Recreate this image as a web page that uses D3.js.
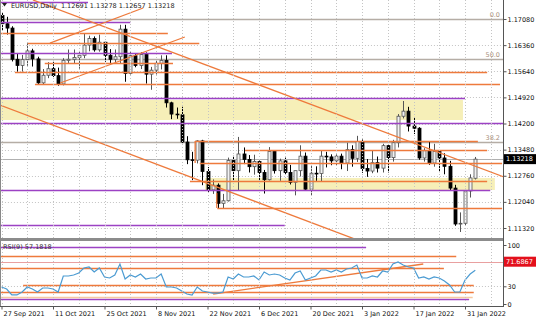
<!DOCTYPE html>
<html>
<head>
<meta charset="utf-8">
<script src="https://cdnjs.cloudflare.com/ajax/libs/d3/7.8.5/d3.min.js"></script>
<style>
    body { margin: 0; background: #fff; }
    svg { display: block; font-family: "DejaVu Sans", sans-serif; }
</style>
</head>
<body>
<div id="chart"></div>
<script>

// EURUSD daily bars, 27 Sep 2021 .. 2 Feb 2022 (bar index 0..92)
let opens = [1.1718,1.1695,1.1683,1.1597,1.1580, 1.1596,1.1620,1.1598,1.1532,1.1553, 1.1571,1.1552,1.1529,1.1594,1.1597,
    1.1602,1.1608,1.1636,1.1654,1.1623, 1.1644,1.1608,1.1597,1.1604,1.1680, 1.1558,1.1607,1.1580,1.1610,1.1556,
    1.1567,1.1586,1.1594,1.1477,1.1446, 1.1444,1.1369,1.1320,1.1319,1.1372, 1.1288,1.1237,1.1250,1.1200,1.1207,
    1.1318,1.1290,1.1336,1.1321,1.1301, 1.1315,1.1285,1.1265,1.1343,1.1290, 1.1317,1.1285,1.1258,1.1290,1.1330,
    1.1239,1.1283,1.1282,1.1330,1.1328, 1.1317,1.1330,1.1311,1.1348,1.1324, 1.1370,1.1296,1.1289,1.1312,1.1297,
    1.1359,1.1326,1.1367,1.1440,1.1454, 1.1413,1.1407,1.1325,1.1345,1.1311, 1.1343,1.1325,1.1302,1.1242,1.1143,
    1.1145,1.1234,1.12691];
let highs = [1.1727,1.1714,1.1688,1.1613,1.1609, 1.1641,1.1626,1.1604,1.1570,1.1589, 1.1590,1.1574,1.1600,1.1624,1.1624,
    1.1620,1.1668,1.1662,1.1660,1.1665, 1.1645,1.1625,1.1624,1.1692,1.1692, 1.1617,1.1614,1.1617,1.1616,1.1576,
    1.1593,1.1608,1.1608,1.1480,1.1464, 1.1466,1.1385,1.1342,1.1374,1.1375, 1.1300,1.1266,1.1255,1.1226,1.1326,
    1.1331,1.1383,1.1354,1.1333,1.1334, 1.1318,1.1292,1.1355,1.1345,1.1323, 1.1326,1.1306,1.1290,1.1360,1.1340,
    1.1303,1.1302,1.1345,1.1342,1.1335, 1.1335,1.1337,1.1367,1.1360,1.1386, 1.1376,1.1322,1.1346,1.1329,1.1364,
    1.1363,1.1375,1.1446,1.1482,1.1466, 1.1438,1.1410,1.1352,1.1371,1.1364, 1.1345,1.1338,1.1317,1.1251,1.1175,
    1.1240,1.1280,1.13278];
let lows = [1.1676,1.1665,1.1591,1.1563,1.1563, 1.1579,1.1577,1.1529,1.1528,1.1545, 1.1548,1.1524,1.1525,1.1584,1.1585,
    1.1571,1.1600,1.1619,1.1618,1.1618, 1.1590,1.1586,1.1584,1.1585,1.1535, 1.1555,1.1575,1.1570,1.1530,1.1513,
    1.1555,1.1569,1.1464,1.1432,1.1433, 1.1366,1.1308,1.1264,1.1310,1.1250, 1.1230,1.1226,1.1186,1.1185,1.1205,
    1.1259,1.1235,1.1308,1.1285,1.1279, 1.1263,1.1227,1.1263,1.1282,1.1262, 1.1279,1.1252,1.1222,1.1274,1.1234,
    1.1222,1.1262,1.1260,1.1299,1.1305, 1.1305,1.1294,1.1289,1.1301,1.1314, 1.1284,1.1273,1.1283,1.1285,1.1285,
    1.1285,1.1315,1.1354,1.1434,1.1398, 1.1391,1.1320,1.1315,1.1306,1.1301, 1.1286,1.1280,1.1235,1.1138,1.1121,
    1.1139,1.1216,1.12657];
let closes = [1.1695,1.1683,1.1597,1.1580,1.1596, 1.1620,1.1598,1.1532,1.1553,1.1571, 1.1552,1.1529,1.1594,1.1597,1.1602,
    1.1608,1.1636,1.1654,1.1623,1.1644, 1.1608,1.1597,1.1604,1.1680,1.1558, 1.1607,1.1580,1.1610,1.1556,1.1567,
    1.1586,1.1594,1.1477,1.1446,1.1444, 1.1369,1.1320,1.1319,1.1372,1.1288, 1.1237,1.1250,1.1200,1.1207,1.1318,
    1.1290,1.1336,1.1321,1.1301,1.1315, 1.1285,1.1265,1.1343,1.1290,1.1317, 1.1285,1.1258,1.1290,1.1330,1.1239,
    1.1283,1.1282,1.1330,1.1328,1.1317, 1.1330,1.1311,1.1348,1.1324,1.1370, 1.1296,1.1289,1.1312,1.1297,1.1359,
    1.1326,1.1367,1.1440,1.1454,1.1413, 1.1407,1.1325,1.1345,1.1311,1.1343, 1.1325,1.1302,1.1242,1.1143,1.1145,
    1.1234,1.1270,1.13218];

// RSI(9)
let rsiValues = [28.8,25.4,15.3,15.3,20.3, 28.8,25.4,20.3,27.1,27.1, 25.4,20.3,47.5,47.5,49.2, 52.5,61.0,62.7,54.2,61.0,
    45.8,44.1,49.2,67.8,42.4, 49.2,45.8,50.8,42.4,44.1, 44.1,50.8,28.8,28.8,27.1, 22.0,16.9,15.3,28.8,22.0,
    20.3,18.6,18.6,20.3,45.8, 42.4,50.8,45.8,45.8,47.5, 40.7,54.2,49.2,50.8,49.2, 44.1,40.7,52.5,55.9,40.7,
    44.1,47.5,57.6,57.6,54.2, 57.6,54.2,59.3,61.0,66.1, 44.1,44.1,47.5,45.8,55.9, 54.2,67.8,71.2,66.1,62.7,
    61.0,44.1,45.8,42.4,45.8, 44.1,39.0,32.2,20.3,20.3, 40.7,50.8,57.2];

let priceTicks = [1.17080, 1.16360, 1.15640, 1.14920, 1.14200, 1.13480, 1.12760, 1.12040, 1.11320];
let rsiTicks = [100, 30, 0];
let dateTicks = [0, 10, 20, 30, 40, 50, 60, 70, 80, 90];
let dateTickLabels = ["27 Sep 2021", "11 Oct 2021", "25 Oct 2021", "8 Nov 2021", "22 Nov 2021",
    "6 Dec 2021", "20 Dec 2021", "3 Jan 2022", "17 Jan 2022", "31 Jan 2022"];

// Drawn objects: levels in price, extents in bar index
let orangeLevels = [1.16694, 1.16418, 1.15867, 1.15619, 1.15288, 1.13717, 1.13469, 1.13111, 1.12615, 1.11871];
let orangeFrom   = [-0.3, 5.1, 8.4, 2.6, 6.5, 37.6, 47.3, 38.5, 36.6, 41.9];
let orangeTo     = [32.3, 38.4, 33.3, 94.3, 96.8, 92.5, 94.3, 97.2, 94.3, 97.2];

let purpleLevels = [1.17562, 1.16997, 1.16143, 1.14902, 1.14213, 1.12367, 1.11402];
let purpleFrom   = [-0.3, -0.3, -0.3, -0.3, -0.3, -0.3, -0.3];
let purpleTo     = [16.8, 25.0, 33.1, 90.0, 97.6, 94.9, 55.0];

let zoneTop    = [1.14847, 1.12697];
let zoneBottom = [1.14296, 1.12367];
let zoneFrom   = [-0.3, 39.5];
let zoneTo     = [89.6, 95.8];

let fibLevels = [1.17080, 1.15977, 1.13703];
let fibLabels = ["0.0", "50.0", "38.2"];

// trend lines: [bar1, price1, bar2, price2]
let trendLines = [
    [6.1, 1.17604, 97.6, 1.12725],
    [-0.3, 1.14710, 68.6, 1.11016],
    [9.4, 1.16418, 27.5, 1.17383],
    [11.4, 1.15316, 35.6, 1.16584],
    [37.6, 1.13717, 37.6, 1.13111],
    [41.8, 1.12284, 41.8, 1.11871]
];

let rsiOrangeLevels = [81.4, 61.0, 32.2, 20.3];
let rsiOrangeFrom   = [-0.3, -0.3, 4.2, -0.3];
let rsiOrangeTo     = [88.3, 85.9, 91.7, 91.7];
let rsiPurpleLevels = [96.6, 8.5];
let rsiPurpleTo     = [70.8, 90.8];
let rsiPeachLevel = 11.9;
let rsiMarkLevel = 71.6867;
let rsiTrend = [41.1, 16.9, 81.9, 67.8];

let header = "EURUSD,Daily  1.12691 1.13278 1.12657 1.13218";
let rsiHeader = "RSI(9) 57.1818";
let lastPrice = 1.13218;

// Chart
let plotRight = 503;
let mainBottom = 238, rsiTop = 241, rsiBottom = 306;
let orange = "#ee7a3c", purple = "#9c42c4", zoneFill = "#f6efb8";

let svg = d3.select("#chart").append("svg")
    .attr("width", 536)
    .attr("height", 321);

let x = d3.scaleLinear().domain([0, 90]).range([1.5, 465]);
let y = d3.scaleLinear().domain([1.11320, 1.17080]).range([228, 19]);
let yRsi = d3.scaleLinear().domain([0, 100]).range([304, 245]);

let defs = svg.append("defs");
defs.append("clipPath").attr("id", "clipMain")
    .append("rect").attr("x", 0).attr("y", 0).attr("width", plotRight).attr("height", mainBottom);
defs.append("clipPath").attr("id", "clipRsi")
    .append("rect").attr("x", 0).attr("y", rsiTop).attr("width", plotRight).attr("height", rsiBottom - rsiTop);

let main = svg.append("g").attr("clip-path", "url(#clipMain)");
let rsi = svg.append("g").attr("clip-path", "url(#clipRsi)");

function hline(g, scale, level, from, to, color, width, dash) {
    let yy = Math.round(scale(level)) + 0.5;
    g.append("line")
        .attr("x1", x(from)).attr("x2", x(to))
        .attr("y1", yy).attr("y2", yy)
        .attr("stroke", color)
        .attr("stroke-width", width)
        .attr("stroke-dasharray", dash || null);
}

// Yellow zones behind everything
zoneTop.forEach(function (top, i) {
    main.append("rect")
        .attr("x", x(zoneFrom[i]))
        .attr("y", y(top))
        .attr("width", x(zoneTo[i]) - x(zoneFrom[i]))
        .attr("height", y(zoneBottom[i]) - y(top))
        .attr("fill", zoneFill);
});

// Dotted grid
priceTicks.forEach(p => hline(main, y, p, -0.5, 100, "#c4c4c4", 1, "1,2"));
hline(rsi, yRsi, 30, -0.5, 100, "#c4c4c4", 1, "1,2");
for (let i = 0; i <= 95; i += 5) {
    let xx = Math.round(x(i)) + 0.5;
    svg.append("line")
        .attr("x1", xx).attr("x2", xx)
        .attr("y1", 0).attr("y2", rsiBottom)
        .attr("stroke", "#c4c4c4")
        .attr("stroke-dasharray", "1,2");
}

// Fibo levels
fibLevels.forEach(function (p, i) {
    hline(main, y, p, -0.5, 100, "#b5ada5", 1.3);
    main.append("text")
        .attr("x", 500)
        .attr("y", y(p) - 2)
        .attr("text-anchor", "end")
        .style("font-size", "6.5px")
        .attr("fill", "#a88f7c")
        .text(fibLabels[i]);
});

// Bid line
hline(main, y, lastPrice, -0.5, 100, "#b0b0b0", 1);

// Candles
let bw = 3;
opens.forEach(function (o, i) {
    let c = closes[i];
    let up = c >= o;
    let xx = Math.round(x(i)) + 0.5;
    main.append("line")
        .attr("x1", xx).attr("x2", xx)
        .attr("y1", y(highs[i])).attr("y2", y(lows[i]))
        .attr("stroke", up ? "#555" : "#000");
    let top = y(Math.max(o, c)), bot = y(Math.min(o, c));
    main.append("rect")
        .attr("x", xx - bw / 2)
        .attr("y", top)
        .attr("width", bw)
        .attr("height", Math.max(bot - top, 0.8))
        .attr("fill", up ? "#f2f2f2" : "#000")
        .attr("stroke", up ? "#555" : "#000")
        .attr("stroke-width", 0.8);
});

// Drawn lines on top
purpleLevels.forEach((p, i) => hline(main, y, p, purpleFrom[i], purpleTo[i], purple, 1.4));
orangeLevels.forEach((p, i) => hline(main, y, p, orangeFrom[i], orangeTo[i], orange, 1.4));
trendLines.forEach(function (t) {
    main.append("line")
        .attr("x1", x(t[0])).attr("y1", y(t[1]))
        .attr("x2", x(t[2])).attr("y2", y(t[3]))
        .attr("stroke", orange)
        .attr("stroke-width", 1.3);
});

// RSI panel
hline(rsi, yRsi, rsiMarkLevel, -0.5, 100, "#e9a0a0", 1);
rsiPurpleLevels.forEach((v, i) => hline(rsi, yRsi, v, -0.3, rsiPurpleTo[i], purple, 1.4));
hline(rsi, yRsi, rsiPeachLevel, -0.3, 91.5, "#f6c9a2", 1.4);
rsiOrangeLevels.forEach((v, i) => hline(rsi, yRsi, v, rsiOrangeFrom[i], rsiOrangeTo[i], orange, 1.4));
rsi.append("line")
    .attr("x1", x(rsiTrend[0])).attr("y1", yRsi(rsiTrend[1]))
    .attr("x2", x(rsiTrend[2])).attr("y2", yRsi(rsiTrend[3]))
    .attr("stroke", orange)
    .attr("stroke-width", 1.3);

let rsiLine = d3.line()
    .x((d, i) => x(i))
    .y(d => yRsi(d));
rsi.append("path")
    .datum(rsiValues)
    .attr("fill", "none")
    .attr("stroke", "#4b9bd2")
    .attr("stroke-width", 1.2)
    .attr("d", rsiLine);

// Frames
svg.append("rect").attr("x", 0).attr("y", mainBottom).attr("width", plotRight).attr("height", rsiTop - mainBottom)
    .attr("fill", "#8c8c8c");
svg.append("line").attr("x1", 0).attr("x2", plotRight + 0.5).attr("y1", rsiBottom + 0.5).attr("y2", rsiBottom + 0.5)
    .attr("stroke", "#555");
svg.append("line").attr("x1", plotRight + 0.5).attr("x2", plotRight + 0.5).attr("y1", 0).attr("y2", rsiBottom + 1)
    .attr("stroke", "#555");
svg.append("line").attr("x1", 0.5).attr("x2", 0.5).attr("y1", 0).attr("y2", rsiBottom)
    .attr("stroke", "#888");

// Axes
let priceAxis = d3.axisRight(y)
    .tickValues(priceTicks)
    .tickFormat(d3.format(".5f"))
    .tickSize(3)
    .tickPadding(1);
let gPrice = svg.append("g").attr("transform", "translate(" + (plotRight + 0.5) + ",0)").call(priceAxis);

let rsiAxis = d3.axisRight(yRsi)
    .tickValues(rsiTicks)
    .tickSize(3)
    .tickPadding(1);
let gRsi = svg.append("g").attr("transform", "translate(" + (plotRight + 0.5) + ",0)").call(rsiAxis);

let dateAxis = d3.axisBottom(x)
    .tickValues(dateTicks)
    .tickFormat((d, i) => dateTickLabels[i])
    .tickSize(3)
    .tickPadding(1.5);
let gDate = svg.append("g").attr("transform", "translate(0," + (rsiBottom + 0.5) + ")").call(dateAxis);
gDate.selectAll("text").attr("text-anchor", "start").attr("x", 1.5);

[gPrice, gRsi, gDate].forEach(function (g) {
    g.select(".domain").remove();
    g.selectAll("line").attr("stroke", "#555");
    g.selectAll("text").style("font-size", "6.5px").style("font-family", "DejaVu Sans").attr("fill", "#111");
});

// Current price and RSI marker boxes
function valueBox(yy, txt, bg) {
    svg.append("rect")
        .attr("x", plotRight + 1).attr("y", yy - 5)
        .attr("width", 536 - plotRight - 1).attr("height", 10)
        .attr("fill", bg);
    svg.append("text")
        .attr("x", plotRight + 3).attr("y", yy)
        .attr("dy", "0.35em")
        .style("font-size", "6.5px")
        .attr("fill", "#fff")
        .text(txt);
}
valueBox(y(lastPrice), d3.format(".5f")(lastPrice), "#000");
valueBox(yRsi(rsiMarkLevel), rsiMarkLevel.toFixed(4), "#e3101c");

// Header texts
svg.append("path").attr("d", "M2,3 L7,3 L4.5,6.5 Z").attr("fill", "#222");
svg.append("text")
    .attr("x", 11).attr("y", 8)
    .style("font-size", "6.5px")
    .attr("fill", "#222")
    .attr("xml:space", "preserve")
    .text(header);
svg.append("text")
    .attr("x", 3).attr("y", 249)
    .style("font-size", "6.5px")
    .attr("fill", "#333")
    .text(rsiHeader);

</script>
</body>
</html>
